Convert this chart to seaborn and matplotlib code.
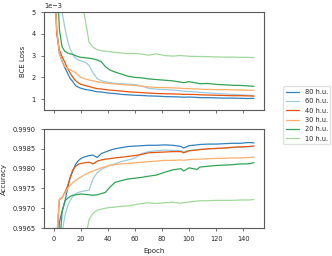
import numpy as np
import pandas as pd
import matplotlib
matplotlib.use('Agg')
import matplotlib.pyplot as plt
from matplotlib.ticker import FormatStrFormatter
import seaborn as sns

epochs = [0, 2, 4, 6, 8, 10, 12, 14, 16, 18, 20, 23, 26, 29, 32, 35, 38, 41, 45, 50,
          55, 60, 65, 70, 76, 82, 88, 94, 96, 100, 106, 108, 114, 120, 126, 132, 138, 144, 148]

models = ['80 h.u.', '60 h.u.', '40 h.u.', '30 h.u.', '20 h.u.', '10 h.u.']
colors = ['#3182bd', '#9ecae1', '#e6550d', '#fdae6b', '#31a354', '#a1d99b']

# BCE loss (x 1e-3)
loss_80 = [8.0, 4.2, 3.1, 2.75, 2.45, 2.2, 1.95, 1.8, 1.62, 1.55, 1.5, 1.45, 1.42, 1.38, 1.34, 1.33, 1.3, 1.28, 1.26, 1.22,
           1.2, 1.18, 1.17, 1.15, 1.14, 1.12, 1.11, 1.10, 1.09, 1.10, 1.08, 1.07, 1.07, 1.06, 1.05, 1.05, 1.04, 1.03, 1.04]
loss_60 = [12, 9, 6.5, 5.0, 4.3, 3.7, 3.3, 3.05, 2.88, 2.8, 2.75, 2.7, 2.55, 2.2, 1.95, 1.85, 1.8, 1.76, 1.73, 1.71,
           1.69, 1.67, 1.6, 1.5, 1.46, 1.44, 1.42, 1.38, 1.36, 1.35, 1.33, 1.31, 1.29, 1.26, 1.24, 1.22, 1.2, 1.18, 1.17]
loss_40 = [7.5, 4.0, 3.25, 2.95, 2.7, 2.4, 2.2, 2.0, 1.85, 1.75, 1.68, 1.63, 1.58, 1.53, 1.48, 1.47, 1.44, 1.42, 1.40, 1.37,
           1.34, 1.32, 1.30, 1.28, 1.26, 1.25, 1.24, 1.23, 1.22, 1.22, 1.21, 1.2, 1.19, 1.18, 1.17, 1.16, 1.16, 1.15, 1.14]
loss_30 = [7.0, 4.2, 3.1, 2.75, 2.5, 2.42, 2.35, 2.28, 2.22, 2.1, 2.0, 1.93, 1.88, 1.84, 1.8, 1.77, 1.74, 1.72, 1.70, 1.67,
           1.65, 1.63, 1.60, 1.56, 1.54, 1.53, 1.52, 1.50, 1.49, 1.48, 1.47, 1.46, 1.45, 1.44, 1.44, 1.43, 1.42, 1.41, 1.41]
loss_20 = [12, 7, 4.2, 3.4, 3.2, 3.12, 3.08, 3.05, 3.0, 2.95, 2.92, 2.9, 2.88, 2.85, 2.8, 2.72, 2.5, 2.35, 2.25, 2.15,
           2.05, 2.0, 1.98, 1.93, 1.9, 1.87, 1.84, 1.78, 1.76, 1.80, 1.74, 1.71, 1.72, 1.68, 1.66, 1.64, 1.63, 1.61, 1.59]
loss_10 = [20, 17, 15, 13, 11.5, 10, 9, 8, 7, 6, 5.6, 4.7, 3.6, 3.38, 3.27, 3.22, 3.2, 3.18, 3.15, 3.12,
           3.1, 3.1, 3.07, 3.02, 3.08, 3.0, 2.98, 3.0, 2.99, 2.97, 2.96, 2.96, 2.95, 2.94, 2.93, 2.93, 2.92, 2.92, 2.91]

# Accuracy
acc_80 = [0.9900, 0.9950, 0.99665, 0.99693, 0.99715, 0.99750, 0.99777, 0.99795, 0.99811, 0.99820, 0.99826, 0.99830, 0.99833,
          0.99834, 0.99828, 0.99838, 0.99842, 0.99846, 0.99850, 0.99853, 0.99856, 0.99857, 0.99858, 0.99859, 0.99859, 0.99860,
          0.99859, 0.99856, 0.99852, 0.99858, 0.99860, 0.99861, 0.99862, 0.99862, 0.99863, 0.99864, 0.99864, 0.99866, 0.99865]
acc_60 = [0.9880, 0.9920, 0.9950, 0.99640, 0.99680, 0.99705, 0.99720, 0.99730, 0.99736, 0.99740, 0.99742, 0.99744, 0.99746,
          0.99775, 0.99790, 0.99798, 0.99803, 0.99808, 0.99812, 0.99818, 0.99822, 0.99827, 0.99838, 0.99843, 0.99845, 0.99847,
          0.99846, 0.99845, 0.99843, 0.99846, 0.99848, 0.99849, 0.99850, 0.99851, 0.99852, 0.99853, 0.99854, 0.99855, 0.99856]
acc_40 = [0.9920, 0.9962, 0.99722, 0.99727, 0.99740, 0.99755, 0.99778, 0.99797, 0.99806, 0.99811, 0.99813, 0.99815, 0.99816,
          0.99812, 0.99819, 0.99822, 0.99824, 0.99825, 0.99827, 0.99829, 0.99831, 0.99833, 0.99836, 0.99840, 0.99841, 0.99842,
          0.99843, 0.99843, 0.99840, 0.99845, 0.99847, 0.99848, 0.99850, 0.99851, 0.99852, 0.99854, 0.99855, 0.99856, 0.99857]
acc_30 = [0.9920, 0.9963, 0.99722, 0.99728, 0.99738, 0.99750, 0.99758, 0.99765, 0.99770, 0.99775, 0.99779, 0.99785, 0.99790,
          0.99794, 0.99798, 0.99802, 0.99805, 0.99808, 0.99810, 0.99812, 0.99813, 0.99815, 0.99816, 0.99818, 0.99819, 0.99821,
          0.99821, 0.99822, 0.99821, 0.99823, 0.99824, 0.99824, 0.99825, 0.99826, 0.99826, 0.99827, 0.99827, 0.99828, 0.99829]
acc_20 = [0.9880, 0.9930, 0.99600, 0.99690, 0.99718, 0.99725, 0.99730, 0.99733, 0.99734, 0.99735, 0.99736, 0.99735, 0.99734,
          0.99733, 0.99734, 0.99737, 0.99740, 0.99752, 0.99765, 0.99770, 0.99774, 0.99776, 0.99778, 0.99781, 0.99784, 0.99791,
          0.99797, 0.99800, 0.99794, 0.99802, 0.99798, 0.99804, 0.99806, 0.99808, 0.99809, 0.99810, 0.99812, 0.99812, 0.99815]
acc_10 = [0.9800, 0.9820, 0.9840, 0.9860, 0.9875, 0.9890, 0.9900, 0.9910, 0.9920, 0.9930, 0.9945, 0.9962, 0.99672,
          0.99688, 0.99695, 0.99698, 0.99700, 0.99702, 0.99703, 0.99705, 0.99706, 0.99709, 0.99712, 0.99714, 0.99712, 0.99714,
          0.99715, 0.99713, 0.99714, 0.99716, 0.99718, 0.99719, 0.99719, 0.99720, 0.99720, 0.99720, 0.99721, 0.99721, 0.99722]

losses = [loss_80, loss_60, loss_40, loss_30, loss_20, loss_10]
accs = [acc_80, acc_60, acc_40, acc_30, acc_20, acc_10]

rows = []
for m, l, a in zip(models, losses, accs):
    for e, lv, av in zip(epochs, l, a):
        rows.append({'Epoch': e, 'Model': m, 'Loss': lv * 1e-3, 'Accuracy': av})
df = pd.DataFrame(rows)

fs = 4.8
sns.set_style('ticks')
plt.rcParams['font.family'] = ['DejaVu Sans']
plt.rcParams['font.size'] = fs
plt.rcParams['axes.edgecolor'] = '.35'
plt.rcParams['axes.linewidth'] = 0.8
plt.rcParams['xtick.color'] = '.35'
plt.rcParams['ytick.color'] = '.35'
plt.rcParams['xtick.labelcolor'] = '.15'
plt.rcParams['ytick.labelcolor'] = '.15'
plt.rcParams['xtick.major.size'] = 2.5
plt.rcParams['ytick.major.size'] = 2.5
plt.rcParams['xtick.major.width'] = 0.6
plt.rcParams['ytick.major.width'] = 0.6

fig = plt.figure(figsize=(3.32, 2.56), dpi=100)
ax1 = fig.add_axes([0.1325, 0.570, 0.6625, 0.383])
ax2 = fig.add_axes([0.1325, 0.109, 0.6625, 0.387], sharex=ax1)

pal = dict(zip(models, colors))
sns.lineplot(data=df, x='Epoch', y='Loss', hue='Model', hue_order=models, palette=pal,
             linewidth=0.9, ax=ax1)
sns.lineplot(data=df, x='Epoch', y='Accuracy', hue='Model', hue_order=models, palette=pal,
             linewidth=0.9, ax=ax2)

ax1.set_ylim(0.5e-3, 5e-3)
ax1.set_yticks([1e-3, 2e-3, 3e-3, 4e-3, 5e-3])
ax1.ticklabel_format(style='sci', axis='y', scilimits=(0, 0))
ax1.set_ylabel('BCE Loss')
ax1.set_xlabel('')
ax1.tick_params(labelbottom=False)

ax2.set_ylim(0.9965, 0.9990)
ax2.set_yticks([0.9965, 0.9970, 0.9975, 0.9980, 0.9985, 0.9990])
ax2.yaxis.set_major_formatter(FormatStrFormatter('%.4f'))
ax2.set_ylabel('Accuracy')
ax2.set_xlabel('Epoch')
ax2.set_xticks([0, 20, 40, 60, 80, 100, 120, 140])

for ax in (ax1, ax2):
    ax.yaxis.get_offset_text().set_fontsize(fs)
    ax.xaxis.label.set_size(fs + 0.2)
    ax.yaxis.label.set_size(fs + 0.2)

handles, labels = ax1.get_legend_handles_labels()
ax1.get_legend().remove()
ax2.get_legend().remove()
fig.legend(handles, labels, loc='center left', bbox_to_anchor=(0.843, 0.55),
           fontsize=fs, frameon=True, edgecolor='.85', fancybox=True)

fig.savefig('out.png', dpi=100)
